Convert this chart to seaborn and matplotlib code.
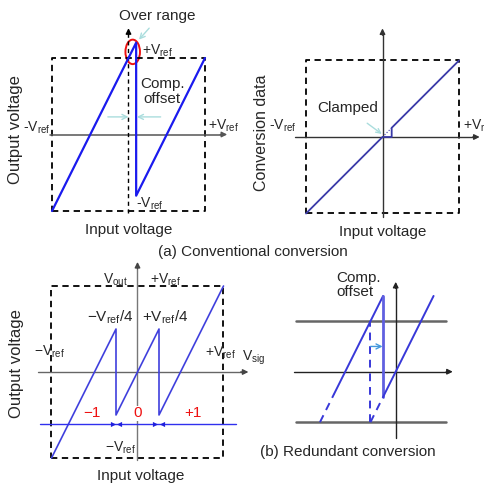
import numpy as np
import pandas as pd
import matplotlib
matplotlib.use("Agg")
import matplotlib.pyplot as plt
import seaborn as sns
from matplotlib.patches import Ellipse

sns.set_theme(style="white")
plt.rcParams['font.family'] = ['Liberation Sans', 'DejaVu Sans']
plt.rcParams['mathtext.fontset'] = 'custom'
plt.rcParams['mathtext.rm'] = 'Liberation Sans'
plt.rcParams['mathtext.it'] = 'Liberation Sans:italic'

# ---------------- data (units of Vref) ----------------
box_x = [-1, 1, 1, -1, -1]
box_y = [-1, -1, 1, 1, -1]

# (a) conventional: output voltage with comparator offset
conv_in = [-1.0, 0.1, 0.1, 1.0]
conv_out = [-1.0, 1.2, -0.8, 1.0]

# (a) conventional: conversion data (clamped)
clamp_in = [-1.0, 0.0, 0.12, 0.12, 1.0]
clamp_out = [-1.0, 0.0, 0.0, 0.12, 1.0]

# (b) redundant: output voltage
red_in = [-1.0, -0.25, -0.25, 0.25, 0.25, 1.0]
red_out = [-1.0, 0.5, -0.5, 0.5, -0.5, 1.0]
region_level = -0.61
region_labels = ['\u22121', '0', '+1']
region_x = [-0.53, 0.0, 0.64]

# (b) redundant: comparator offset detail (thresholds at +-1)
thr_levels = [1.0, -1.0]
left_solid_x, left_solid_y = [-1.22, -0.25], [-0.44, 1.5]
left_dash_x, left_dash_y = [-1.5, -1.22], [-1.0, -0.44]
drop_x, drop_y = [-0.25, -0.25], [1.5, -0.5]
right_solid_x, right_solid_y = [-0.25, 0.75], [-0.5, 1.5]
right_dash_x, right_dash_y = [-0.5, -0.25], [-1.0, -0.5]
ideal_x, ideal_y = [-0.5, -0.5], [-1.0, 1.0]

W, H = 485, 484
fig = plt.figure(figsize=(W / 100, H / 100), dpi=100)


def panel(cx, cy, u, xlim, ylim):
    left = (cx + xlim[0] * u) / W
    width = (xlim[1] - xlim[0]) * u / W
    bottom = 1 - (cy - ylim[0] * u) / H
    height = (ylim[1] - ylim[0]) * u / H
    ax = fig.add_axes([left, bottom, width, height])
    ax.set_xlim(xlim)
    ax.set_ylim(ylim)
    ax.axis('off')
    return ax


def arrow(ax, x0, y0, x1, y1, color, lw=1.0, style='-|>', ms=8, ls='-'):
    ax.annotate('', xy=(x1, y1), xytext=(x0, y0), annotation_clip=False,
                arrowprops=dict(arrowstyle=style, color=color, lw=lw,
                                mutation_scale=ms, shrinkA=0, shrinkB=0,
                                linestyle=ls))


def vref(sign=''):
    return sign + r'V$_\mathregular{ref}$'


FS = 11
FV = 10
MINUS = '\u2212'

# ---------------- panel 1 ----------------
ax1 = panel(128.5, 134.5, 76.5, (-1.6, 1.6), (-1.4, 1.8))
ax1.plot(box_x, box_y, color='black', lw=1.3, ls=(0, (3.5, 2.5)))
ax1.plot([-1.03, 1.24], [0, 0], color='#555555', lw=1.1)
arrow(ax1, 1.2, 0, 1.29, 0, '#555555', ms=8)
ax1.plot([0, 0], [-1.03, 1.32], color='black', lw=1.0, ls=(0, (3, 2.5)))
arrow(ax1, 0, 1.3, 0, 1.39, 'black', ms=8)
sns.lineplot(x=conv_in, y=conv_out, sort=False, estimator=None, ax=ax1,
             color='#1a1aee', lw=1.6)
ax1.add_patch(Ellipse((0.055, 1.08), 0.19, 0.32, fill=False, ec='#ee1111', lw=1.4))
arrow(ax1, 0.27, 1.39, 0.137, 1.24, '#aadddd', lw=1.0, style='->', ms=9)
arrow(ax1, -0.27, 0.23, 0.0, 0.23, '#aadddd', lw=1.0, style='->', ms=9)
arrow(ax1, 0.42, 0.23, 0.11, 0.23, '#aadddd', lw=1.0, style='->', ms=9)
ax1.text(0.37, 1.55, 'Over range', fontsize=FS, ha='center', va='center')
ax1.text(0.18, 1.10, vref('+'), fontsize=FV, ha='left', va='center')
ax1.text(0.44, 0.56, 'Comp.\noffset', fontsize=FS, ha='center', va='center',
         linespacing=1.1)
ax1.text(-1.02, 0.09, vref('-'), fontsize=FV, ha='right', va='center')
ax1.text(1.04, 0.11, vref('+'), fontsize=FV, ha='left', va='center')
ax1.text(0.1, -0.9, vref('-'), fontsize=FV, ha='left', va='center')
ax1.text(-1.48, 0.06, 'Output voltage', fontsize=FS + 1, rotation=90,
         ha='center', va='center')
ax1.text(0.0, -1.25, 'Input voltage', fontsize=FS, ha='center', va='center')

# ---------------- panel 2 ----------------
ax2 = panel(382.5, 137, 76.5, (-1.6, 1.6), (-1.4, 1.8))
ax2.plot(box_x, box_y, color='black', lw=1.3, ls=(0, (3.5, 2.5)))
ax2.plot([-1.14, 1.22], [0, 0], color='#333333', lw=1.0)
arrow(ax2, 1.18, 0, 1.27, 0, '#333333', ms=8)
ax2.plot([0, 0], [-1.05, 1.35], color='#333333', lw=1.0)
arrow(ax2, 0, 1.33, 0, 1.42, '#333333', ms=8)
sns.lineplot(x=clamp_in, y=clamp_out, sort=False, estimator=None, ax=ax2,
             color='#3a3aa8', lw=1.3)
ax2.plot([0, 0.12], [0, 0.12], color='#3a3aa8', lw=0.8, ls=':')
arrow(ax2, -0.2, 0.18, -0.01, 0.04, '#aadddd', lw=1.0, style='->', ms=8)
ax2.text(-0.45, 0.38, 'Clamped', fontsize=FS, ha='center', va='center')
ax2.text(-1.13, 0.14, vref('-'), fontsize=FV, ha='right', va='center')
ax2.text(1.05, 0.14, vref('+'), fontsize=FV, ha='left', va='center')
ax2.text(-1.58, 0.05, 'Conversion data', fontsize=FS + 0.5, rotation=90,
         ha='center', va='center')
ax2.text(0.0, -1.24, 'Input voltage', fontsize=FS, ha='center', va='center')

fig.text(253 / W, 1 - 252 / H, '(a) Conventional conversion', fontsize=FS,
         ha='center', va='center')

# ---------------- panel 3 ----------------
ax3 = panel(137.5, 372, 86.0, (-1.6, 1.4), (-1.3, 1.35))
ax3.plot(box_x, box_y, color='black', lw=1.3, ls=(0, (3.5, 2.5)))
ax3.plot([-1.16, 1.24], [0, 0], color='#666666', lw=1.0)
arrow(ax3, 1.2, 0, 1.29, 0, '#444444', ms=8)
ax3.plot([0, 0], [-1.02, 1.22], color='#777777', lw=1.0)
arrow(ax3, 0, 1.2, 0, 1.28, '#444444', ms=8)
sns.lineplot(x=red_in, y=red_out, sort=False, estimator=None, ax=ax3,
             color='#4040dd', lw=1.2)
ax3.plot([-1.13, 1.15], [region_level, region_level], color='#3030ee', lw=1.0)
tri_r = [-0.285, 0.205]
tri_l = [-0.215, 0.28]
ax3.scatter(tri_r, [region_level] * 2, marker='>', s=14, color='#2020dd',
            linewidths=0, zorder=5)
ax3.scatter(tri_l, [region_level] * 2, marker='<', s=14, color='#2020dd',
            linewidths=0, zorder=5)
for lab, xx in zip(region_labels, region_x):
    ax3.text(xx, -0.48, lab, fontsize=FS, color='#ee1111', ha='center',
             va='center', bbox=dict(fc='white', ec='none', pad=0.5))
ax3.text(-0.26, 1.07, r'V$_\mathregular{out}$', fontsize=FV, ha='center', va='center')
ax3.text(0.33, 1.07, vref('+'), fontsize=FV, ha='center', va='center')
ax3.text(-0.32, 0.64, MINUS + r'V$_\mathregular{ref}$/4', fontsize=FS,
         ha='center', va='center')
ax3.text(0.32, 0.64, r'+V$_\mathregular{ref}$/4', fontsize=FS,
         ha='center', va='center')
ax3.text(-1.02, 0.23, vref(MINUS), fontsize=FV, ha='center', va='center')
ax3.text(0.97, 0.22, vref('+'), fontsize=FV, ha='center', va='center')
ax3.text(1.22, 0.17, r'V$_\mathregular{sig}$', fontsize=FV, ha='left', va='center')
ax3.text(-0.2, -0.88, vref(MINUS), fontsize=FV, ha='center', va='center')
ax3.text(0.04, -1.21, 'Input voltage', fontsize=FS, ha='center', va='center')
ax3.text(-1.41, 0.1, 'Output voltage', fontsize=FS + 1, rotation=90,
         ha='center', va='center')

# ---------------- panel 4 ----------------
ax4 = panel(395.7, 371.7, 50.5, (-2.1, 1.3), (-1.4, 2.1))
for lv in thr_levels:
    ax4.plot([-1.97, 0.99], [lv, lv], color='#666666', lw=1.8)
ax4.plot([-2.01, 1.06], [0, 0], color='#222222', lw=1.0)
arrow(ax4, 1.0, 0, 1.13, 0, '#222222', ms=8)
ax4.plot([0, 0], [-1.31, 1.7], color='#222222', lw=1.0)
arrow(ax4, 0, 1.65, 0, 1.78, '#222222', ms=8)
blue4 = '#3838d8'
sns.lineplot(x=left_solid_x, y=left_solid_y, sort=False, estimator=None,
             ax=ax4, color=blue4, lw=1.4)
ax4.plot(left_dash_x, left_dash_y, color=blue4, lw=1.4, ls=(0, (4, 3)))
ax4.plot(drop_x, drop_y, color='#6060e0', lw=2.0)
sns.lineplot(x=right_solid_x, y=right_solid_y, sort=False, estimator=None,
             ax=ax4, color=blue4, lw=1.4)
ax4.plot(right_dash_x, right_dash_y, color=blue4, lw=1.4, ls=(0, (4, 3)))
ax4.plot(ideal_x, ideal_y, color=blue4, lw=1.4, ls=(0, (4, 3)))
arrow(ax4, -0.5, 0.5, -0.26, 0.5, '#4499dd', lw=1.0, style='->', ms=9)
ax4.text(-1.18, 1.72, 'Comp.\noffset', fontsize=FS, ha='left', va='center',
         linespacing=1.05)

fig.text(348 / W, 1 - 452 / H, '(b) Redundant conversion', fontsize=FS,
         ha='center', va='center')

fig.savefig('out.png', dpi=100, facecolor='white')
